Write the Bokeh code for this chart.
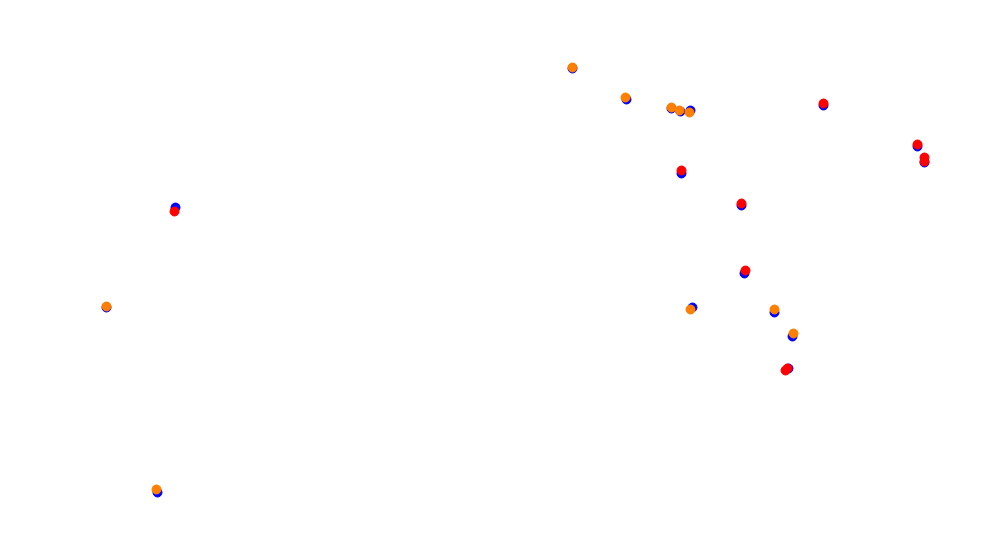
from bokeh.plotting import figure
from bokeh.models import Range1d
from bokeh.embed import file_html
from bokeh.resources import INLINE

# Blue series (reference positions)
blue_x = [572, 626, 671, 680, 690, 823, 917, 924, 681, 741, 744, 692, 774, 792, 788, 175, 106, 157]
blue_y = [68, 99, 108, 111, 110, 105, 146, 162, 173, 205, 273, 307, 312, 336, 368, 207, 307, 492]

# Red series
red_x = [823, 917, 924, 924, 681, 741, 745, 785, 787, 174]
red_y = [103, 144, 157, 161, 170, 203, 270, 370, 368, 211]

# Orange series
orange_x = [572, 625, 671, 679, 689, 690, 774, 793, 106, 156]
orange_y = [67, 97, 107, 110, 112, 309, 309, 333, 306, 489]

p = figure(width=969, height=533, output_backend="svg", toolbar_location=None,
           x_range=Range1d(0, 969), y_range=Range1d(533, 0),
           min_border=0, outline_line_color=None)
p.axis.visible = False
p.grid.visible = False
p.background_fill_color = "white"
p.border_fill_color = "white"

p.scatter(blue_x, blue_y, size=9, color="#0000ff")
p.scatter(red_x, red_y, size=9, color="#ff0000")
p.scatter(orange_x, orange_y, size=9, color="#ff7f00")

open("out.html", "w").write(file_html(p, INLINE))
